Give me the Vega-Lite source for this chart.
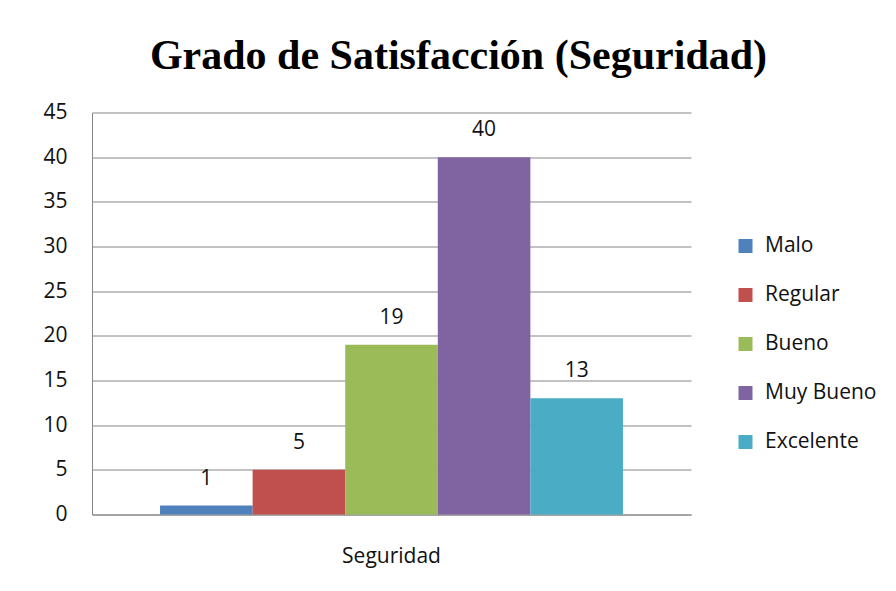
{
  "$schema": "https://vega.github.io/schema/vega-lite/v6.json",
  "width": 599,
  "height": 402,
  "autosize": {"type": "none"},
  "padding": {"left": 92, "top": 112.5, "right": 205, "bottom": 76.5},
  "background": "white",
  "title": {
    "text": "Grado de Satisfacción (Seguridad)",
    "font": "Liberation Serif",
    "fontSize": 42,
    "fontWeight": "bold",
    "color": "black",
    "anchor": "middle",
    "dx": 67,
    "offset": -9,
    "baseline": "alphabetic"
  },
  "data": {
    "values": [
      {"grupo": "Seguridad", "nivel": "Malo", "valor": 1},
      {"grupo": "Seguridad", "nivel": "Regular", "valor": 5},
      {"grupo": "Seguridad", "nivel": "Bueno", "valor": 19},
      {"grupo": "Seguridad", "nivel": "Muy Bueno", "valor": 40},
      {"grupo": "Seguridad", "nivel": "Excelente", "valor": 13}
    ]
  },
  "encoding": {
    "x": {
      "field": "grupo",
      "type": "nominal",
      "scale": {"paddingInner": 0, "paddingOuter": 0.147},
      "axis": {
        "title": null,
        "labelAngle": 0,
        "ticks": false,
        "labelPadding": 31,
        "labelFont": "Open Sans",
        "labelFontSize": 21,
        "labelColor": "#111111",
        "domainColor": "#868686",
        "domainWidth": 1
      }
    },
    "xOffset": {
      "field": "nivel",
      "type": "nominal",
      "sort": ["Malo", "Regular", "Bueno", "Muy Bueno", "Excelente"],
      "scale": {"paddingInner": 0, "paddingOuter": 0}
    },
    "y": {
      "field": "valor",
      "type": "quantitative",
      "scale": {"domain": [0, 45]},
      "axis": {
        "title": null,
        "values": [0, 5, 10, 15, 20, 25, 30, 35, 40, 45],
        "ticks": false,
        "labelPadding": 25,
        "labelFont": "Open Sans",
        "labelFontSize": 21,
        "labelColor": "#111111",
        "domainColor": "#868686",
        "domainWidth": 1,
        "gridColor": "#868686",
        "gridWidth": 1
      }
    }
  },
  "layer": [
    {
      "mark": {"type": "bar"},
      "encoding": {
        "color": {
          "field": "nivel",
          "type": "nominal",
          "sort": ["Malo", "Regular", "Bueno", "Muy Bueno", "Excelente"],
          "scale": {
            "domain": ["Malo", "Regular", "Bueno", "Muy Bueno", "Excelente"],
            "range": ["#4F81BD", "#C0504D", "#9BBB59", "#8064A2", "#4BACC6"]
          },
          "legend": {
            "title": null,
            "orient": "none",
            "legendX": 643,
            "legendY": 123,
            "symbolType": "square",
            "symbolSize": 196,
            "symbolStrokeWidth": 0,
            "labelFont": "Open Sans",
            "labelFontSize": 21,
            "labelColor": "#111111",
            "labelOffset": 9,
            "rowPadding": 27
          }
        }
      }
    },
    {
      "mark": {
        "type": "text",
        "baseline": "alphabetic",
        "dy": -21,
        "font": "Open Sans",
        "fontSize": 21,
        "color": "#111111"
      },
      "encoding": {
        "text": {"field": "valor", "type": "quantitative"}
      }
    }
  ],
  "config": {
    "view": {"stroke": null}
  }
}
